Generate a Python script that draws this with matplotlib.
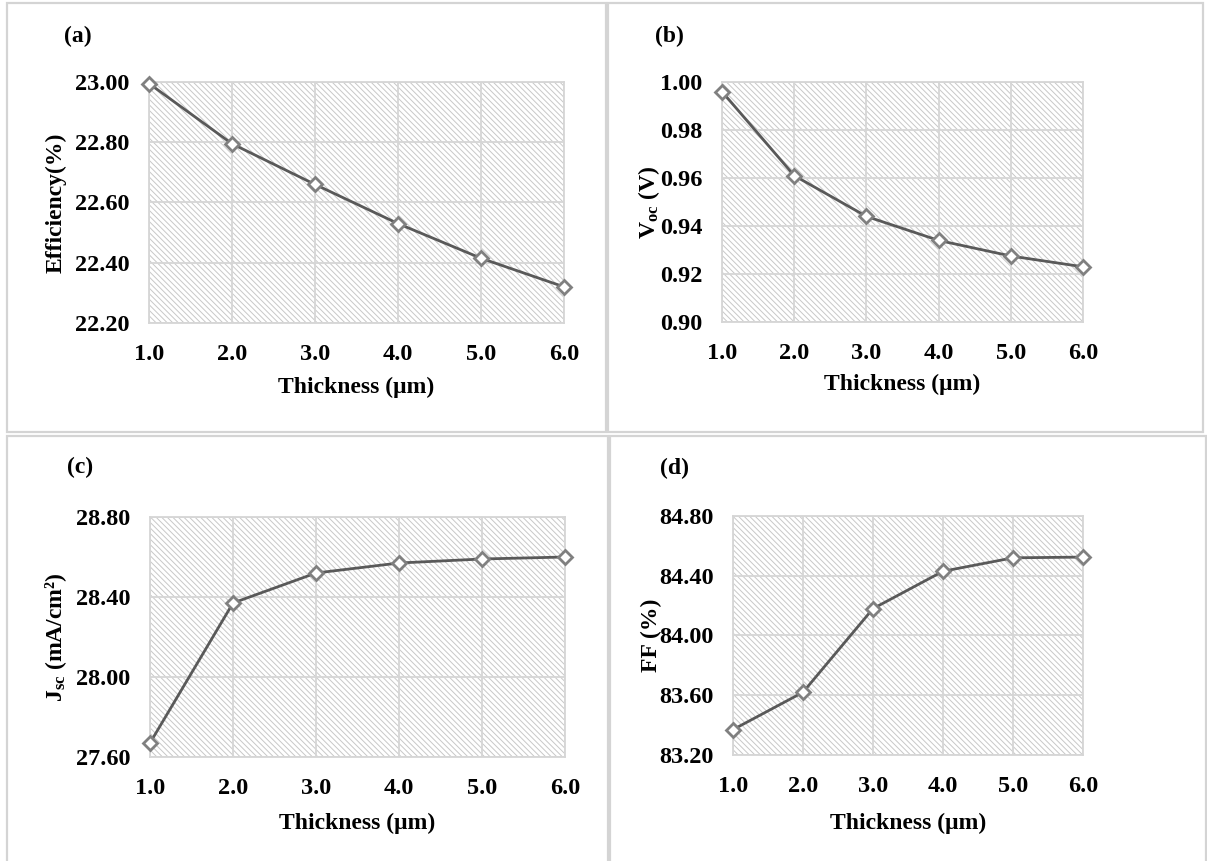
import matplotlib
matplotlib.use("Agg")
import matplotlib.pyplot as plt
from matplotlib.patches import Rectangle

# ── Style ─────────────────────────────────────────────────────────────────────
plt.rcParams.update({
    "font.family": "Liberation Serif",
    "font.weight": "bold",
    "font.size": 17,
    "mathtext.fontset": "custom",
    "mathtext.rm": "Liberation Serif:bold",
    "mathtext.it": "Liberation Serif:bold",
    "mathtext.bf": "Liberation Serif:bold",
    "hatch.color": "#c8c8c8",
    "hatch.linewidth": 0.7,
})

# ── Data ──────────────────────────────────────────────────────────────────────
thickness = [1.0, 2.0, 3.0, 4.0, 5.0, 6.0]
efficiency = [22.995, 22.795, 22.66, 22.53, 22.415, 22.32]
voc = [0.996, 0.961, 0.944, 0.934, 0.9275, 0.923]
jsc = [27.67, 28.37, 28.52, 28.57, 28.59, 28.60]
ff = [83.37, 83.62, 84.18, 84.43, 84.52, 84.525]

x_ticks = [1.0, 2.0, 3.0, 4.0, 5.0, 6.0]
eff_ticks = [22.20, 22.40, 22.60, 22.80, 23.00]
voc_ticks = [0.90, 0.92, 0.94, 0.96, 0.98, 1.00]
jsc_ticks = [27.60, 28.00, 28.40, 28.80]
ff_ticks = [83.20, 83.60, 84.00, 84.40, 84.80]

W, H = 1207, 861
GRID = "#d6d6d6"
LINE = "#595959"
MARK = "#808080"
FS_TICK = 17.5
FS_LABEL = 17

fig = plt.figure(figsize=(W / 100, H / 100), dpi=100)
fig.patch.set_facecolor("white")


def px_rect(x0, y0, x1, y1):
    return [x0 / W, 1 - y1 / H, (x1 - x0) / W, (y1 - y0) / H]


# panel frames (pixels: x0, y0, x1, y1)
frames = [(7, 3, 606, 432), (608, 3, 1203, 432),
          (7, 436, 608, 866), (610, 436, 1206, 866)]
for x0, y0, x1, y1 in frames:
    fig.add_artist(Rectangle((x0 / W, 1 - y1 / H), (x1 - x0) / W, (y1 - y0) / H,
                             transform=fig.transFigure, facecolor="none",
                             edgecolor="#d4d4d4", linewidth=1.6, zorder=-1))

panels = [
    dict(box=(149, 82, 564, 323), y=efficiency, ticks=eff_ticks,
         ylabel="Efficiency(%)", tag="(a)", tagpos=(64, 36), ylx=56, xly=387),
    dict(box=(722, 82, 1083, 322), y=voc, ticks=voc_ticks,
         ylabel="V$_{\\rm oc}$ (V)", tag="(b)", tagpos=(655, 36), ylx=649, xly=384),
    dict(box=(150, 517, 565, 757), y=jsc, ticks=jsc_ticks,
         ylabel="J$_{\\rm sc}$ (mA/cm²)", tag="(c)", tagpos=(67, 467), ylx=56, xly=823),
    dict(box=(733, 516, 1083, 755), y=ff, ticks=ff_ticks,
         ylabel="FF (%)", tag="(d)", tagpos=(660, 468), ylx=651, xly=823),
]

for p in panels:
    x0, y0, x1, y1 = p["box"]
    ax = fig.add_axes(px_rect(x0, y0, x1, y1))
    ax.patch.set_facecolor("white")
    ax.patch.set_edgecolor("#c8c8c8")
    ax.patch.set_hatch("\\\\\\\\\\\\")

    ax.plot(thickness, p["y"], color=LINE, linewidth=2.0, marker="D",
            markersize=7.5, markerfacecolor="white", markeredgecolor=MARK,
            markeredgewidth=2.0, clip_on=False, zorder=3)

    ax.set_xlim(x_ticks[0], x_ticks[-1])
    ax.set_ylim(p["ticks"][0], p["ticks"][-1])
    ax.set_xticks(x_ticks)
    ax.set_xticklabels([f"{v:.1f}" for v in x_ticks])
    ax.set_yticks(p["ticks"])
    ax.set_yticklabels([f"{v:.2f}" for v in p["ticks"]])
    ax.tick_params(length=0, labelsize=FS_TICK)
    ax.tick_params(axis="x", pad=15)
    ax.tick_params(axis="y", pad=14)

    ax.grid(True, color=GRID, linewidth=1.3)
    ax.set_axisbelow(True)
    for s in ax.spines.values():
        s.set_color(GRID)
        s.set_linewidth(1.3)

    ax.set_xlabel("Thickness (μm)", fontsize=FS_LABEL, fontweight="bold", va="center")
    ax.xaxis.set_label_coords(0.5, (y1 - p["xly"]) / (y1 - y0))
    ax.set_ylabel(p["ylabel"], fontsize=FS_LABEL, fontweight="bold", va="center")
    ax.yaxis.set_label_coords((p["ylx"] - x0) / (x1 - x0), 0.5)

    tx, ty = p["tagpos"]
    fig.text(tx / W, 1 - ty / H, p["tag"], fontsize=FS_LABEL, fontweight="bold",
             ha="left", va="center")

fig.savefig("out.png", dpi=100, facecolor="white")
plt.close(fig)
